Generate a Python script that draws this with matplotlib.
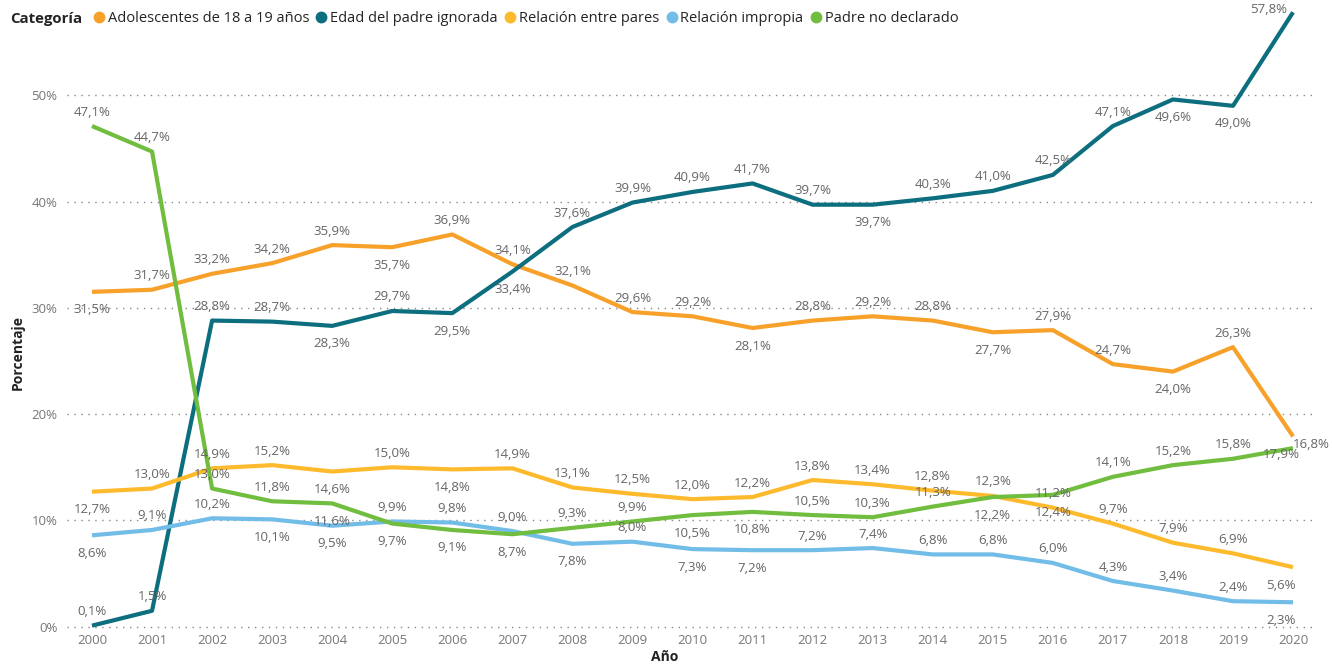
import matplotlib
matplotlib.use('Agg')
import matplotlib.pyplot as plt
from matplotlib.lines import Line2D

plt.rcParams['font.family'] = ['Open Sans', 'DejaVu Sans']

years = list(range(2000, 2021))

adolescentes = [31.5, 31.7, 33.2, 34.2, 35.9, 35.7, 36.9, 34.1, 32.1, 29.6, 29.2,
                28.1, 28.8, 29.2, 28.8, 27.7, 27.9, 24.7, 24.0, 26.3, 17.9]
edad_ignorada = [0.1, 1.5, 28.8, 28.7, 28.3, 29.7, 29.5, 33.4, 37.6, 39.9, 40.9,
                 41.7, 39.7, 39.7, 40.3, 41.0, 42.5, 47.1, 49.6, 49.0, 57.8]
entre_pares = [12.7, 13.0, 14.9, 15.2, 14.6, 15.0, 14.8, 14.9, 13.1, 12.5, 12.0,
               12.2, 13.8, 13.4, 12.8, 12.3, 11.2, 9.7, 7.9, 6.9, 5.6]
impropia = [8.6, 9.1, 10.2, 10.1, 9.5, 9.9, 9.8, 9.0, 7.8, 8.0, 7.3,
            7.2, 7.2, 7.4, 6.8, 6.8, 6.0, 4.3, 3.4, 2.4, 2.3]
no_declarado = [47.1, 44.7, 13.0, 11.8, 11.6, 9.7, 9.1, 8.7, 9.3, 9.9, 10.5,
                10.8, 10.5, 10.3, 11.3, 12.2, 12.4, 14.1, 15.2, 15.8, 16.8]

nombres = ['Adolescentes de 18 a 19 años', 'Edad del padre ignorada',
           'Relación entre pares', 'Relación impropia', 'Padre no declarado']
colores = ['#F7A12B', '#0C6E7F', '#FDBA2C', '#72BCE8', '#71BD3F']
series = [adolescentes, edad_ignorada, entre_pares, impropia, no_declarado]

# where each data label sits: a = above, b = below, r = right, t = top corner
posiciones = [
    "baaaabaaaaabaaabaabab",
    "aaaababbaaaaabaaaabbt",
    "baaabab" + "a" * 13 + "b",
    "baabbaaababbaaaaaaaab",
    "aaaabbbbaabbaaabbaaar",
]
offsets = {'a': (0, 14), 'b': (0, -18), 'r': (18, 4), 't': (-24, 3)}

fig = plt.figure(figsize=(13.32, 6.66), dpi=100)
ax = fig.add_axes([0.0503, 0.0542, 0.985 - 0.0503, 0.9449])

for vals, col in zip(series, colores):
    ax.plot(years, vals, color=col, lw=3, solid_capstyle='butt', clip_on=False, zorder=3)

for vals, pos in zip(series, posiciones):
    for i, (x, v) in enumerate(zip(years, vals)):
        txt = f"{v:.1f}%".replace('.', ',')
        dx, dy = offsets[pos[i]]
        if i == len(years) - 1 and pos[i] in 'ab':
            dx = -12
        ax.annotate(txt, (x, v), xytext=(dx, dy), textcoords='offset pixels',
                    ha='center', va='center', fontsize=9.5, color='#666666',
                    zorder=4, annotation_clip=False)

ax.set_xlim(1999.584, 2020.316)
ax.set_ylim(-0.3, 58.9)
ax.set_xticks(years)
ax.set_xticklabels([str(y) for y in years])
ax.set_yticks([0, 10, 20, 30, 40, 50])
ax.set_yticklabels([f"{t}%" for t in [0, 10, 20, 30, 40, 50]])
ax.tick_params(length=0, labelsize=9.5, labelcolor='#777777')
ax.tick_params(axis='y', pad=7)
ax.tick_params(axis='x', pad=3)
for s in ax.spines.values():
    s.set_visible(False)
ax.yaxis.grid(True, linestyle=(0, (1, 4)), color='#888888', lw=1)
ax.set_axisbelow(True)

fig.text(18 / 1332, 1 - 352 / 666, 'Porcentaje', rotation=90, ha='center', va='center',
         fontsize=10, fontweight='bold', color='#222222')
fig.text(665 / 1332, 1 - 657 / 666, 'Año', ha='center', va='center',
         fontsize=10, fontweight='bold', color='#222222')

fig.text(10 / 1332, 1 - 19 / 666, 'Categoría', ha='left', va='center',
         fontsize=10.8, fontweight='bold', color='#252423')
handles = [Line2D([], [], marker='o', ls='', ms=7.5, color=c) for c in colores]
fig.legend(handles, nombres, loc='center left', bbox_to_anchor=(93 / 1332, 1 - 19 / 666),
           ncol=5, frameon=False, fontsize=10.5, handletextpad=0.2, columnspacing=0.45,
           handlelength=0.8, borderaxespad=0, borderpad=0, labelcolor='#252423')

plt.savefig('out.png')
